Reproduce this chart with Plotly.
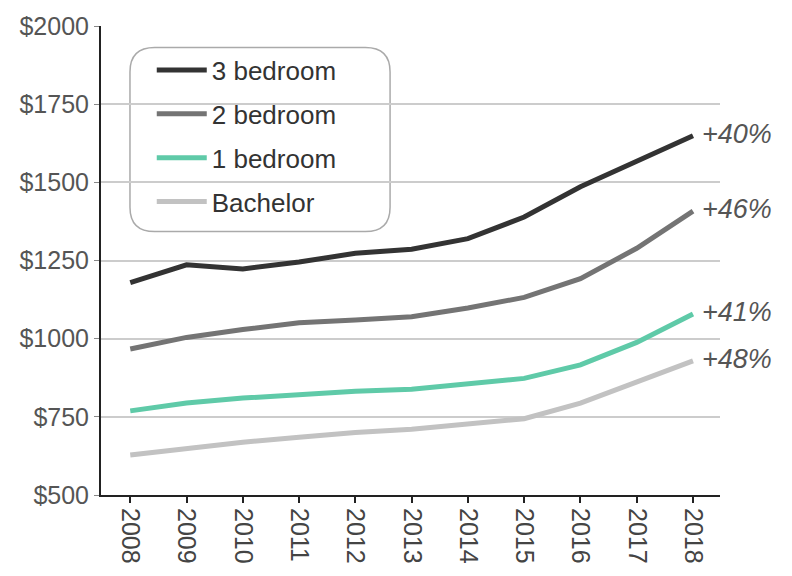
import plotly.graph_objects as go

years = [2008, 2009, 2010, 2011, 2012, 2013, 2014, 2015, 2016, 2017, 2018]
three_bed = [1179, 1236, 1223, 1245, 1273, 1286, 1320, 1389, 1486, 1568, 1649]
two_bed = [967, 1004, 1029, 1051, 1060, 1070, 1098, 1132, 1192, 1289, 1408]
one_bed = [769, 794, 810, 822, 832, 838, 854, 873, 916, 988, 1079]
bachelor = [628, 650, 669, 685, 700, 710, 725, 744, 794, 860, 929]

series_names = ["3 bedroom", "2 bedroom", "1 bedroom", "Bachelor"]
series_values = [three_bed, two_bed, one_bed, bachelor]
series_colors = ["#333333", "#747474", "#5fcaa8", "#c2c2c2"]
change_labels = ["+40%", "+46%", "+41%", "+48%"]

y_ticks = [500, 750, 1000, 1250, 1500, 1750, 2000]
y_tick_text = ["$" + str(v) for v in y_ticks]

FONT = "Liberation Sans, Arial, sans-serif"

fig = go.Figure()
for name, vals, col in zip(series_names, series_values, series_colors):
    fig.add_trace(go.Scatter(
        x=years, y=vals, mode="lines", name=name, legendgroup=name,
        line=dict(color=col, width=5),
    ))

for vals, lab in zip(series_values, change_labels):
    fig.add_annotation(
        x=years[-1], y=vals[-1], text="<i>" + lab + "</i>", showarrow=False,
        xanchor="left", yanchor="middle", xshift=7, yshift=2,
        font=dict(family=FONT, size=27, color="#555555"),
    )

# rounded legend frame (paper coordinates)
x0, x1 = 0.0468, 0.467
y0, y1 = 0.5616, 0.954
rx, ry = 0.040, 0.052
path = (f"M {x0+rx},{y1} L {x1-rx},{y1} Q {x1},{y1} {x1},{y1-ry} "
        f"L {x1},{y0+ry} Q {x1},{y0} {x1-rx},{y0} L {x0+rx},{y0} "
        f"Q {x0},{y0} {x0},{y0+ry} L {x0},{y1-ry} Q {x0},{y1} {x0+rx},{y1} Z")
fig.add_shape(type="path", path=path, xref="paper", yref="paper",
              line=dict(color="#aaaaaa", width=1.5), fillcolor="white", layer="below")

fig.update_layout(
    width=792, height=576,
    margin=dict(l=101, r=72, t=18, b=79),
    paper_bgcolor="white", plot_bgcolor="white",
    font=dict(family=FONT, size=20, color="#444444"),
    showlegend=True,
    legend=dict(
        x=0.082, y=0.956, xanchor="left", yanchor="top",
        bgcolor="rgba(0,0,0,0)", borderwidth=0,
        font=dict(family=FONT, size=26, color="#333333"),
        tracegroupgap=7, itemwidth=50,
    ),
    xaxis=dict(
        range=[2007.48, 2018.48], tickmode="array", tickvals=years,
        ticktext=[str(y) for y in years], tickangle=90,
        showgrid=False, showline=True, linecolor="#222222", linewidth=2,
        ticks="outside", ticklen=6, tickwidth=1.5, tickcolor="#222222",
        tickfont=dict(family=FONT, size=25, color="#444444"), zeroline=False,
    ),
    yaxis=dict(
        range=[500, 2000], tickmode="array", tickvals=y_ticks, ticktext=y_tick_text,
        showgrid=True, gridcolor="#cccccc", gridwidth=1.5,
        showline=True, linecolor="#222222", linewidth=2,
        ticks="outside", ticklen=5, tickwidth=1, tickcolor="#888888",
        tickfont=dict(family=FONT, size=25, color="#555555"), zeroline=False,
    ),
)

fig.write_html("out.html")
